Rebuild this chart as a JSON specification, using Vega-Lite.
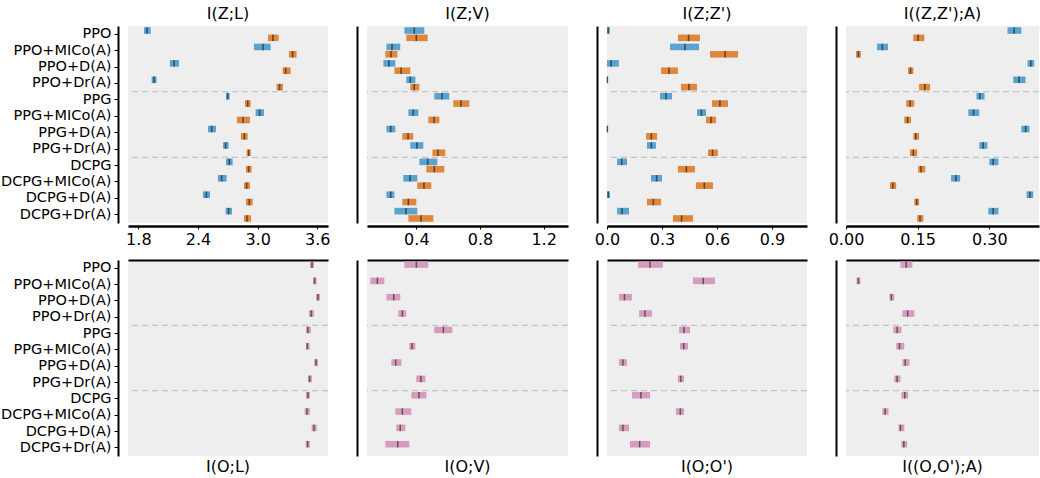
{
"$schema":"https://vega.github.io/schema/vega-lite/v6.json",
"padding":{"left":0,"top":5,"right":0,"bottom":0},
"config":{"font":"DejaVu Sans","view":{"fill":"#eeeeee","stroke":null},"axis":{"grid":false,"domainColor":"#000","tickColor":"#000","labelColor":"#000","labelFont":"DejaVu Sans"},"title":{"font":"DejaVu Sans","fontSize":16,"fontWeight":"normal","color":"#000"}},
"datasets":{
"sep":[{"m":"PPG"},{"m":"DCPG"}],
"d":[
{"p":"ZL","m":"PPO","g":"a","lo":1.857,"mid":1.887,"hi":1.924},{"p":"ZL","m":"PPO","g":"b","lo":3.104,"mid":3.154,"hi":3.211},
{"p":"ZL","m":"PPO+MICo(A)","g":"a","lo":2.963,"mid":3.054,"hi":3.131},{"p":"ZL","m":"PPO+MICo(A)","g":"b","lo":3.315,"mid":3.352,"hi":3.392},
{"p":"ZL","m":"PPO+D(A)","g":"a","lo":2.118,"mid":2.159,"hi":2.209},{"p":"ZL","m":"PPO+D(A)","g":"b","lo":3.252,"mid":3.282,"hi":3.332},
{"p":"ZL","m":"PPO+Dr(A)","g":"a","lo":1.934,"mid":1.958,"hi":1.984},{"p":"ZL","m":"PPO+Dr(A)","g":"b","lo":3.191,"mid":3.221,"hi":3.255},
{"p":"ZL","m":"PPG","g":"a","lo":2.682,"mid":2.698,"hi":2.719},{"p":"ZL","m":"PPG","g":"b","lo":2.873,"mid":2.9,"hi":2.93},
{"p":"ZL","m":"PPG+MICo(A)","g":"a","lo":2.98,"mid":3.02,"hi":3.064},{"p":"ZL","m":"PPG+MICo(A)","g":"b","lo":2.792,"mid":2.853,"hi":2.923},
{"p":"ZL","m":"PPG+D(A)","g":"a","lo":2.501,"mid":2.538,"hi":2.581},{"p":"ZL","m":"PPG+D(A)","g":"b","lo":2.832,"mid":2.866,"hi":2.9},
{"p":"ZL","m":"PPG+Dr(A)","g":"a","lo":2.652,"mid":2.678,"hi":2.708},{"p":"ZL","m":"PPG+Dr(A)","g":"b","lo":2.89,"mid":2.91,"hi":2.93},
{"p":"ZL","m":"DCPG","g":"a","lo":2.682,"mid":2.715,"hi":2.749},{"p":"ZL","m":"DCPG","g":"b","lo":2.883,"mid":2.91,"hi":2.94},
{"p":"ZL","m":"DCPG+MICo(A)","g":"a","lo":2.601,"mid":2.638,"hi":2.688},{"p":"ZL","m":"DCPG+MICo(A)","g":"b","lo":2.863,"mid":2.89,"hi":2.923},
{"p":"ZL","m":"DCPG+D(A)","g":"a","lo":2.45,"mid":2.484,"hi":2.521},{"p":"ZL","m":"DCPG+D(A)","g":"b","lo":2.883,"mid":2.916,"hi":2.95},
{"p":"ZL","m":"DCPG+Dr(A)","g":"a","lo":2.678,"mid":2.708,"hi":2.742},{"p":"ZL","m":"DCPG+Dr(A)","g":"b","lo":2.863,"mid":2.893,"hi":2.933},

{"p":"ZV","m":"PPO","g":"a","lo":0.325,"mid":0.387,"hi":0.45},{"p":"ZV","m":"PPO","g":"b","lo":0.337,"mid":0.4,"hi":0.471},
{"p":"ZV","m":"PPO+MICo(A)","g":"a","lo":0.212,"mid":0.247,"hi":0.299},{"p":"ZV","m":"PPO+MICo(A)","g":"b","lo":0.205,"mid":0.241,"hi":0.281},
{"p":"ZV","m":"PPO+D(A)","g":"a","lo":0.193,"mid":0.228,"hi":0.268},{"p":"ZV","m":"PPO+D(A)","g":"b","lo":0.262,"mid":0.304,"hi":0.362},
{"p":"ZV","m":"PPO+Dr(A)","g":"a","lo":0.337,"mid":0.362,"hi":0.394},{"p":"ZV","m":"PPO+Dr(A)","g":"b","lo":0.362,"mid":0.387,"hi":0.419},
{"p":"ZV","m":"PPG","g":"a","lo":0.513,"mid":0.561,"hi":0.607},{"p":"ZV","m":"PPG","g":"b","lo":0.632,"mid":0.681,"hi":0.733},
{"p":"ZV","m":"PPG+MICo(A)","g":"a","lo":0.35,"mid":0.381,"hi":0.413},{"p":"ZV","m":"PPG+MICo(A)","g":"b","lo":0.475,"mid":0.511,"hi":0.545},
{"p":"ZV","m":"PPG+D(A)","g":"a","lo":0.212,"mid":0.239,"hi":0.268},{"p":"ZV","m":"PPG+D(A)","g":"b","lo":0.312,"mid":0.348,"hi":0.381},
{"p":"ZV","m":"PPG+Dr(A)","g":"a","lo":0.362,"mid":0.404,"hi":0.444},{"p":"ZV","m":"PPG+Dr(A)","g":"b","lo":0.501,"mid":0.536,"hi":0.582},
{"p":"ZV","m":"DCPG","g":"a","lo":0.419,"mid":0.471,"hi":0.532},{"p":"ZV","m":"DCPG","g":"b","lo":0.463,"mid":0.513,"hi":0.576},
{"p":"ZV","m":"DCPG+MICo(A)","g":"a","lo":0.318,"mid":0.36,"hi":0.406},{"p":"ZV","m":"DCPG+MICo(A)","g":"b","lo":0.406,"mid":0.448,"hi":0.494},
{"p":"ZV","m":"DCPG+D(A)","g":"a","lo":0.212,"mid":0.239,"hi":0.262},{"p":"ZV","m":"DCPG+D(A)","g":"b","lo":0.312,"mid":0.35,"hi":0.4},
{"p":"ZV","m":"DCPG+Dr(A)","g":"a","lo":0.262,"mid":0.335,"hi":0.406},{"p":"ZV","m":"DCPG+Dr(A)","g":"b","lo":0.35,"mid":0.429,"hi":0.507},

{"p":"ZZ","m":"PPO","g":"a","lo":0,"mid":0.007,"hi":0.0145},{"p":"ZZ","m":"PPO","g":"b","lo":0.387,"mid":0.445,"hi":0.507},
{"p":"ZZ","m":"PPO+MICo(A)","g":"a","lo":0.344,"mid":0.425,"hi":0.502},{"p":"ZZ","m":"PPO+MICo(A)","g":"b","lo":0.562,"mid":0.644,"hi":0.715},
{"p":"ZZ","m":"PPO+D(A)","g":"a","lo":0,"mid":0.022,"hi":0.065},{"p":"ZZ","m":"PPO+D(A)","g":"b","lo":0.295,"mid":0.338,"hi":0.387},
{"p":"ZZ","m":"PPO+Dr(A)","g":"a","lo":0,"mid":0.002,"hi":0.005},{"p":"ZZ","m":"PPO+Dr(A)","g":"b","lo":0.404,"mid":0.447,"hi":0.491},
{"p":"ZZ","m":"PPG","g":"a","lo":0.289,"mid":0.322,"hi":0.355},{"p":"ZZ","m":"PPG","g":"b","lo":0.573,"mid":0.616,"hi":0.66},
{"p":"ZZ","m":"PPG+MICo(A)","g":"a","lo":0.491,"mid":0.515,"hi":0.54},{"p":"ZZ","m":"PPG+MICo(A)","g":"b","lo":0.54,"mid":0.567,"hi":0.595},
{"p":"ZZ","m":"PPG+D(A)","g":"a","lo":0,"mid":0.002,"hi":0.005},{"p":"ZZ","m":"PPG+D(A)","g":"b","lo":0.213,"mid":0.242,"hi":0.273},
{"p":"ZZ","m":"PPG+Dr(A)","g":"a","lo":0.218,"mid":0.242,"hi":0.267},{"p":"ZZ","m":"PPG+Dr(A)","g":"b","lo":0.551,"mid":0.576,"hi":0.605},
{"p":"ZZ","m":"DCPG","g":"a","lo":0.055,"mid":0.08,"hi":0.109},{"p":"ZZ","m":"DCPG","g":"b","lo":0.387,"mid":0.433,"hi":0.48},
{"p":"ZZ","m":"DCPG+MICo(A)","g":"a","lo":0.24,"mid":0.271,"hi":0.3},{"p":"ZZ","m":"DCPG+MICo(A)","g":"b","lo":0.485,"mid":0.531,"hi":0.578},
{"p":"ZZ","m":"DCPG+D(A)","g":"a","lo":0,"mid":0.007,"hi":0.016},{"p":"ZZ","m":"DCPG+D(A)","g":"b","lo":0.218,"mid":0.253,"hi":0.295},
{"p":"ZZ","m":"DCPG+Dr(A)","g":"a","lo":0.055,"mid":0.082,"hi":0.12},{"p":"ZZ","m":"DCPG+Dr(A)","g":"b","lo":0.36,"mid":0.407,"hi":0.469},

{"p":"ZA","m":"PPO","g":"a","lo":0.338,"mid":0.352,"hi":0.367},{"p":"ZA","m":"PPO","g":"b","lo":0.141,"mid":0.151,"hi":0.164},
{"p":"ZA","m":"PPO+MICo(A)","g":"a","lo":0.065,"mid":0.076,"hi":0.088},{"p":"ZA","m":"PPO+MICo(A)","g":"b","lo":0.021,"mid":0.026,"hi":0.031},
{"p":"ZA","m":"PPO+D(A)","g":"a","lo":0.38,"mid":0.387,"hi":0.394},{"p":"ZA","m":"PPO+D(A)","g":"b","lo":0.13,"mid":0.135,"hi":0.141},
{"p":"ZA","m":"PPO+Dr(A)","g":"a","lo":0.35,"mid":0.362,"hi":0.376},{"p":"ZA","m":"PPO+Dr(A)","g":"b","lo":0.153,"mid":0.165,"hi":0.176},
{"p":"ZA","m":"PPG","g":"a","lo":0.273,"mid":0.28,"hi":0.29},{"p":"ZA","m":"PPG","g":"b","lo":0.126,"mid":0.134,"hi":0.143},
{"p":"ZA","m":"PPG+MICo(A)","g":"a","lo":0.256,"mid":0.267,"hi":0.279},{"p":"ZA","m":"PPG+MICo(A)","g":"b","lo":0.122,"mid":0.129,"hi":0.136},
{"p":"ZA","m":"PPG+D(A)","g":"a","lo":0.367,"mid":0.376,"hi":0.384},{"p":"ZA","m":"PPG+D(A)","g":"b","lo":0.141,"mid":0.146,"hi":0.153},
{"p":"ZA","m":"PPG+Dr(A)","g":"a","lo":0.279,"mid":0.287,"hi":0.296},{"p":"ZA","m":"PPG+Dr(A)","g":"b","lo":0.134,"mid":0.141,"hi":0.149},
{"p":"ZA","m":"DCPG","g":"a","lo":0.3,"mid":0.308,"hi":0.319},{"p":"ZA","m":"DCPG","g":"b","lo":0.151,"mid":0.157,"hi":0.166},
{"p":"ZA","m":"DCPG+MICo(A)","g":"a","lo":0.22,"mid":0.23,"hi":0.239},{"p":"ZA","m":"DCPG+MICo(A)","g":"b","lo":0.092,"mid":0.098,"hi":0.105},
{"p":"ZA","m":"DCPG+D(A)","g":"a","lo":0.378,"mid":0.385,"hi":0.392},{"p":"ZA","m":"DCPG+D(A)","g":"b","lo":0.143,"mid":0.148,"hi":0.153},
{"p":"ZA","m":"DCPG+Dr(A)","g":"a","lo":0.298,"mid":0.308,"hi":0.319},{"p":"ZA","m":"DCPG+Dr(A)","g":"b","lo":0.149,"mid":0.155,"hi":0.162},

{"p":"OL","m":"PPO","g":"a","lo":3.526,"mid":3.547,"hi":3.567},
{"p":"OL","m":"PPO+MICo(A)","g":"a","lo":3.557,"mid":3.573,"hi":3.594},
{"p":"OL","m":"PPO+D(A)","g":"a","lo":3.587,"mid":3.607,"hi":3.627},
{"p":"OL","m":"PPO+Dr(A)","g":"a","lo":3.516,"mid":3.54,"hi":3.567},
{"p":"OL","m":"PPG","g":"a","lo":3.486,"mid":3.506,"hi":3.537},
{"p":"OL","m":"PPG+MICo(A)","g":"a","lo":3.486,"mid":3.5,"hi":3.523},
{"p":"OL","m":"PPG+D(A)","g":"a","lo":3.57,"mid":3.587,"hi":3.607},
{"p":"OL","m":"PPG+Dr(A)","g":"a","lo":3.506,"mid":3.523,"hi":3.547},
{"p":"OL","m":"DCPG","g":"a","lo":3.486,"mid":3.506,"hi":3.526},
{"p":"OL","m":"DCPG+MICo(A)","g":"a","lo":3.473,"mid":3.496,"hi":3.526},
{"p":"OL","m":"DCPG+D(A)","g":"a","lo":3.543,"mid":3.567,"hi":3.594},
{"p":"OL","m":"DCPG+Dr(A)","g":"a","lo":3.483,"mid":3.503,"hi":3.526},

{"p":"OV","m":"PPO","g":"a","lo":0.325,"mid":0.4,"hi":0.475},
{"p":"OV","m":"PPO+MICo(A)","g":"a","lo":0.111,"mid":0.155,"hi":0.199},
{"p":"OV","m":"PPO+D(A)","g":"a","lo":0.212,"mid":0.258,"hi":0.299},
{"p":"OV","m":"PPO+Dr(A)","g":"a","lo":0.287,"mid":0.312,"hi":0.337},
{"p":"OV","m":"PPG","g":"a","lo":0.513,"mid":0.57,"hi":0.626},
{"p":"OV","m":"PPG+MICo(A)","g":"a","lo":0.356,"mid":0.373,"hi":0.394},
{"p":"OV","m":"PPG+D(A)","g":"a","lo":0.243,"mid":0.27,"hi":0.306},
{"p":"OV","m":"PPG+Dr(A)","g":"a","lo":0.4,"mid":0.429,"hi":0.457},
{"p":"OV","m":"DCPG","g":"a","lo":0.369,"mid":0.417,"hi":0.463},
{"p":"OV","m":"DCPG+MICo(A)","g":"a","lo":0.268,"mid":0.312,"hi":0.369},
{"p":"OV","m":"DCPG+D(A)","g":"a","lo":0.274,"mid":0.299,"hi":0.331},
{"p":"OV","m":"DCPG+Dr(A)","g":"a","lo":0.205,"mid":0.283,"hi":0.356},

{"p":"OO","m":"PPO","g":"a","lo":0.169,"mid":0.235,"hi":0.305},
{"p":"OO","m":"PPO+MICo(A)","g":"a","lo":0.469,"mid":0.525,"hi":0.589},
{"p":"OO","m":"PPO+D(A)","g":"a","lo":0.065,"mid":0.095,"hi":0.136},
{"p":"OO","m":"PPO+Dr(A)","g":"a","lo":0.175,"mid":0.207,"hi":0.245},
{"p":"OO","m":"PPG","g":"a","lo":0.393,"mid":0.42,"hi":0.453},
{"p":"OO","m":"PPG+MICo(A)","g":"a","lo":0.398,"mid":0.418,"hi":0.442},
{"p":"OO","m":"PPG+D(A)","g":"a","lo":0.065,"mid":0.087,"hi":0.109},
{"p":"OO","m":"PPG+Dr(A)","g":"a","lo":0.387,"mid":0.402,"hi":0.42},
{"p":"OO","m":"DCPG","g":"a","lo":0.136,"mid":0.185,"hi":0.235},
{"p":"OO","m":"DCPG+MICo(A)","g":"a","lo":0.376,"mid":0.4,"hi":0.42},
{"p":"OO","m":"DCPG+D(A)","g":"a","lo":0.065,"mid":0.087,"hi":0.12},
{"p":"OO","m":"DCPG+Dr(A)","g":"a","lo":0.125,"mid":0.178,"hi":0.235},

{"p":"OA","m":"PPO","g":"a","lo":0.114,"mid":0.126,"hi":0.139},
{"p":"OA","m":"PPO+MICo(A)","g":"a","lo":0.022,"mid":0.026,"hi":0.03},
{"p":"OA","m":"PPO+D(A)","g":"a","lo":0.091,"mid":0.095,"hi":0.101},
{"p":"OA","m":"PPO+Dr(A)","g":"a","lo":0.118,"mid":0.129,"hi":0.143},
{"p":"OA","m":"PPG","g":"a","lo":0.099,"mid":0.107,"hi":0.116},
{"p":"OA","m":"PPG+MICo(A)","g":"a","lo":0.105,"mid":0.112,"hi":0.122},
{"p":"OA","m":"PPG+D(A)","g":"a","lo":0.118,"mid":0.124,"hi":0.133},
{"p":"OA","m":"PPG+Dr(A)","g":"a","lo":0.101,"mid":0.107,"hi":0.114},
{"p":"OA","m":"DCPG","g":"a","lo":0.116,"mid":0.123,"hi":0.13},
{"p":"OA","m":"DCPG+MICo(A)","g":"a","lo":0.076,"mid":0.082,"hi":0.089},
{"p":"OA","m":"DCPG+D(A)","g":"a","lo":0.11,"mid":0.114,"hi":0.122},
{"p":"OA","m":"DCPG+Dr(A)","g":"a","lo":0.116,"mid":0.121,"hi":0.128}
]},
"columns":4,
"spacing":{"row":37,"column":39},
"bounds":"flush",
"resolve":{"scale":{"x":"independent"}},
"concat":[
{"width":200,"height":197,"title":{"text":"I(Z;L)","offset":4},
"layer":[
{"data":{"name":"sep"},"mark":{"type":"rule","color":"#c4c4c4","strokeDash":[6,4],"strokeWidth":1.2},"encoding":{"y":{"field":"m","type":"nominal","bandPosition":0,"scale":{"domain":["PPO","PPO+MICo(A)","PPO+D(A)","PPO+Dr(A)","PPG","PPG+MICo(A)","PPG+D(A)","PPG+Dr(A)","DCPG","DCPG+MICo(A)","DCPG+D(A)","DCPG+Dr(A)"],"paddingInner":0,"paddingOuter":0},"axis":{"title":null,"offset":10,"domainWidth":2,"tickSize":4,"labelFontSize":14.5,"labelPadding":3}}}},
{"data":{"name":"d"},"transform":[{"filter":"datum.p=='ZL'"}],"mark":{"type":"bar"},"encoding":{"y":{"field":"m","type":"nominal"},"yOffset":{"field":"g","type":"nominal","scale":{"domain":["a","b"],"paddingInner":0.1,"paddingOuter":0.17}},"x":{"field":"lo","type":"quantitative","scale":{"domain":[1.696,3.708],"nice":false,"zero":false},"axis":{"title":null,"offset":3,"domainWidth":2.5,"tickSize":3,"values":[1.8,2.4,3.0,3.6],"format":".1f","labelFontSize":16,"labelPadding":2,"labelFlush":false}},"x2":{"field":"hi"},"color":{"field":"g","type":"nominal","scale":{"domain":["a","b"],"range":["#5ba3cf","#e0873e"]},"legend":null}}},
{"data":{"name":"d"},"transform":[{"filter":"datum.p=='ZL'"}],"mark":{"type":"tick","thickness":1.6,"size":6.5,"color":"#000","opacity":0.5},"encoding":{"y":{"field":"m","type":"nominal"},"yOffset":{"field":"g","type":"nominal"},"x":{"field":"mid","type":"quantitative"}}}
]},
{"width":201,"height":197,"title":{"text":"I(Z;V)","offset":4},
"layer":[
{"data":{"name":"sep"},"mark":{"type":"rule","color":"#c4c4c4","strokeDash":[6,4],"strokeWidth":1.2},"encoding":{"y":{"field":"m","type":"nominal","bandPosition":0,"scale":{"domain":["PPO","PPO+MICo(A)","PPO+D(A)","PPO+Dr(A)","PPG","PPG+MICo(A)","PPG+D(A)","PPG+Dr(A)","DCPG","DCPG+MICo(A)","DCPG+D(A)","DCPG+Dr(A)"],"paddingInner":0,"paddingOuter":0},"axis":{"title":null,"offset":10,"domainWidth":2,"labels":false,"ticks":false}}}},
{"data":{"name":"d"},"transform":[{"filter":"datum.p=='ZV'"}],"mark":{"type":"bar"},"encoding":{"y":{"field":"m","type":"nominal"},"yOffset":{"field":"g","type":"nominal","scale":{"domain":["a","b"],"paddingInner":0.1,"paddingOuter":0.17}},"x":{"field":"lo","type":"quantitative","scale":{"domain":[0.09,1.353],"nice":false,"zero":false},"axis":{"title":null,"offset":3,"domainWidth":2.5,"tickSize":3,"values":[0.4,0.8,1.2],"format":".1f","labelFontSize":16,"labelPadding":2,"labelFlush":false}},"x2":{"field":"hi"},"color":{"field":"g","type":"nominal","scale":{"domain":["a","b"],"range":["#5ba3cf","#e0873e"]},"legend":null}}},
{"data":{"name":"d"},"transform":[{"filter":"datum.p=='ZV'"}],"mark":{"type":"tick","thickness":1.6,"size":6.5,"color":"#000","opacity":0.5},"encoding":{"y":{"field":"m","type":"nominal"},"yOffset":{"field":"g","type":"nominal"},"x":{"field":"mid","type":"quantitative"}}}
]},
{"width":200,"height":197,"title":{"text":"I(Z;Z')","offset":4},
"layer":[
{"data":{"name":"sep"},"mark":{"type":"rule","color":"#c4c4c4","strokeDash":[6,4],"strokeWidth":1.2},"encoding":{"y":{"field":"m","type":"nominal","bandPosition":0,"scale":{"domain":["PPO","PPO+MICo(A)","PPO+D(A)","PPO+Dr(A)","PPG","PPG+MICo(A)","PPG+D(A)","PPG+Dr(A)","DCPG","DCPG+MICo(A)","DCPG+D(A)","DCPG+Dr(A)"],"paddingInner":0,"paddingOuter":0},"axis":{"title":null,"offset":10,"domainWidth":2,"labels":false,"ticks":false}}}},
{"data":{"name":"d"},"transform":[{"filter":"datum.p=='ZZ'"}],"mark":{"type":"bar"},"encoding":{"y":{"field":"m","type":"nominal"},"yOffset":{"field":"g","type":"nominal","scale":{"domain":["a","b"],"paddingInner":0.1,"paddingOuter":0.17}},"x":{"field":"lo","type":"quantitative","scale":{"domain":[0,1.091],"nice":false,"zero":false},"axis":{"title":null,"offset":3,"domainWidth":2.5,"tickSize":3,"values":[0,0.3,0.6,0.9],"format":".1f","labelFontSize":16,"labelPadding":2,"labelFlush":false}},"x2":{"field":"hi"},"color":{"field":"g","type":"nominal","scale":{"domain":["a","b"],"range":["#5ba3cf","#e0873e"]},"legend":null}}},
{"data":{"name":"d"},"transform":[{"filter":"datum.p=='ZZ'"}],"mark":{"type":"tick","thickness":1.6,"size":6.5,"color":"#000","opacity":0.5},"encoding":{"y":{"field":"m","type":"nominal"},"yOffset":{"field":"g","type":"nominal"},"x":{"field":"mid","type":"quantitative"}}}
]},
{"width":193,"height":197,"title":{"text":"I((Z,Z');A)","offset":4},
"layer":[
{"data":{"name":"sep"},"mark":{"type":"rule","color":"#c4c4c4","strokeDash":[6,4],"strokeWidth":1.2},"encoding":{"y":{"field":"m","type":"nominal","bandPosition":0,"scale":{"domain":["PPO","PPO+MICo(A)","PPO+D(A)","PPO+Dr(A)","PPG","PPG+MICo(A)","PPG+D(A)","PPG+Dr(A)","DCPG","DCPG+MICo(A)","DCPG+D(A)","DCPG+Dr(A)"],"paddingInner":0,"paddingOuter":0},"axis":{"title":null,"offset":10,"domainWidth":2,"labels":false,"ticks":false}}}},
{"data":{"name":"d"},"transform":[{"filter":"datum.p=='ZA'"}],"mark":{"type":"bar"},"encoding":{"y":{"field":"m","type":"nominal"},"yOffset":{"field":"g","type":"nominal","scale":{"domain":["a","b"],"paddingInner":0.1,"paddingOuter":0.17}},"x":{"field":"lo","type":"quantitative","scale":{"domain":[0,0.404],"nice":false,"zero":false},"axis":{"title":null,"offset":3,"domainWidth":2.5,"tickSize":3,"values":[0,0.15,0.3],"format":".2f","labelFontSize":16,"labelPadding":2,"labelFlush":false}},"x2":{"field":"hi"},"color":{"field":"g","type":"nominal","scale":{"domain":["a","b"],"range":["#5ba3cf","#e0873e"]},"legend":null}}},
{"data":{"name":"d"},"transform":[{"filter":"datum.p=='ZA'"}],"mark":{"type":"tick","thickness":1.6,"size":6.5,"color":"#000","opacity":0.5},"encoding":{"y":{"field":"m","type":"nominal"},"yOffset":{"field":"g","type":"nominal"},"x":{"field":"mid","type":"quantitative"}}}
]},
{"width":200,"height":196,"title":{"text":"I(O;L)","orient":"bottom","offset":3},
"layer":[
{"data":{"name":"sep"},"mark":{"type":"rule","color":"#c4c4c4","strokeDash":[6,4],"strokeWidth":1.2},"encoding":{"y":{"field":"m","type":"nominal","bandPosition":0,"scale":{"domain":["PPO","PPO+MICo(A)","PPO+D(A)","PPO+Dr(A)","PPG","PPG+MICo(A)","PPG+D(A)","PPG+Dr(A)","DCPG","DCPG+MICo(A)","DCPG+D(A)","DCPG+Dr(A)"],"paddingInner":0,"paddingOuter":0},"axis":{"title":null,"offset":10,"domainWidth":2,"tickSize":4,"labelFontSize":14.5,"labelPadding":3}}}},
{"data":{"name":"d"},"transform":[{"filter":"datum.p=='OL'"}],"mark":{"type":"bar","color":"#d69cbe"},"encoding":{"y":{"field":"m","type":"nominal"},"yOffset":{"field":"g","type":"nominal","scale":{"domain":["a","b"],"paddingInner":0.1,"paddingOuter":0.17}},"x":{"field":"lo","type":"quantitative","scale":{"domain":[1.696,3.708],"nice":false,"zero":false},"axis":{"title":null,"orient":"top","domainWidth":2,"labels":false,"ticks":false}},"x2":{"field":"hi"}}},
{"data":{"name":"d"},"transform":[{"filter":"datum.p=='OL'"}],"mark":{"type":"tick","thickness":1.5,"size":6.5,"color":"#000","opacity":0.5},"encoding":{"y":{"field":"m","type":"nominal"},"yOffset":{"field":"g","type":"nominal"},"x":{"field":"mid","type":"quantitative"}}}
]},
{"width":201,"height":196,"title":{"text":"I(O;V)","orient":"bottom","offset":3},
"layer":[
{"data":{"name":"sep"},"mark":{"type":"rule","color":"#c4c4c4","strokeDash":[6,4],"strokeWidth":1.2},"encoding":{"y":{"field":"m","type":"nominal","bandPosition":0,"scale":{"domain":["PPO","PPO+MICo(A)","PPO+D(A)","PPO+Dr(A)","PPG","PPG+MICo(A)","PPG+D(A)","PPG+Dr(A)","DCPG","DCPG+MICo(A)","DCPG+D(A)","DCPG+Dr(A)"],"paddingInner":0,"paddingOuter":0},"axis":{"title":null,"offset":10,"domainWidth":2,"labels":false,"ticks":false}}}},
{"data":{"name":"d"},"transform":[{"filter":"datum.p=='OV'"}],"mark":{"type":"bar","color":"#d69cbe"},"encoding":{"y":{"field":"m","type":"nominal"},"yOffset":{"field":"g","type":"nominal","scale":{"domain":["a","b"],"paddingInner":0.1,"paddingOuter":0.17}},"x":{"field":"lo","type":"quantitative","scale":{"domain":[0.09,1.353],"nice":false,"zero":false},"axis":{"title":null,"orient":"top","domainWidth":2,"labels":false,"ticks":false}},"x2":{"field":"hi"}}},
{"data":{"name":"d"},"transform":[{"filter":"datum.p=='OV'"}],"mark":{"type":"tick","thickness":1.5,"size":6.5,"color":"#000","opacity":0.5},"encoding":{"y":{"field":"m","type":"nominal"},"yOffset":{"field":"g","type":"nominal"},"x":{"field":"mid","type":"quantitative"}}}
]},
{"width":200,"height":196,"title":{"text":"I(O;O')","orient":"bottom","offset":3},
"layer":[
{"data":{"name":"sep"},"mark":{"type":"rule","color":"#c4c4c4","strokeDash":[6,4],"strokeWidth":1.2},"encoding":{"y":{"field":"m","type":"nominal","bandPosition":0,"scale":{"domain":["PPO","PPO+MICo(A)","PPO+D(A)","PPO+Dr(A)","PPG","PPG+MICo(A)","PPG+D(A)","PPG+Dr(A)","DCPG","DCPG+MICo(A)","DCPG+D(A)","DCPG+Dr(A)"],"paddingInner":0,"paddingOuter":0},"axis":{"title":null,"offset":10,"domainWidth":2,"labels":false,"ticks":false}}}},
{"data":{"name":"d"},"transform":[{"filter":"datum.p=='OO'"}],"mark":{"type":"bar","color":"#d69cbe"},"encoding":{"y":{"field":"m","type":"nominal"},"yOffset":{"field":"g","type":"nominal","scale":{"domain":["a","b"],"paddingInner":0.1,"paddingOuter":0.17}},"x":{"field":"lo","type":"quantitative","scale":{"domain":[0,1.091],"nice":false,"zero":false},"axis":{"title":null,"orient":"top","domainWidth":2,"labels":false,"ticks":false}},"x2":{"field":"hi"}}},
{"data":{"name":"d"},"transform":[{"filter":"datum.p=='OO'"}],"mark":{"type":"tick","thickness":1.5,"size":6.5,"color":"#000","opacity":0.5},"encoding":{"y":{"field":"m","type":"nominal"},"yOffset":{"field":"g","type":"nominal"},"x":{"field":"mid","type":"quantitative"}}}
]},
{"width":193,"height":196,"title":{"text":"I((O,O');A)","orient":"bottom","offset":3},
"layer":[
{"data":{"name":"sep"},"mark":{"type":"rule","color":"#c4c4c4","strokeDash":[6,4],"strokeWidth":1.2},"encoding":{"y":{"field":"m","type":"nominal","bandPosition":0,"scale":{"domain":["PPO","PPO+MICo(A)","PPO+D(A)","PPO+Dr(A)","PPG","PPG+MICo(A)","PPG+D(A)","PPG+Dr(A)","DCPG","DCPG+MICo(A)","DCPG+D(A)","DCPG+Dr(A)"],"paddingInner":0,"paddingOuter":0},"axis":{"title":null,"offset":10,"domainWidth":2,"labels":false,"ticks":false}}}},
{"data":{"name":"d"},"transform":[{"filter":"datum.p=='OA'"}],"mark":{"type":"bar","color":"#d69cbe"},"encoding":{"y":{"field":"m","type":"nominal"},"yOffset":{"field":"g","type":"nominal","scale":{"domain":["a","b"],"paddingInner":0.1,"paddingOuter":0.17}},"x":{"field":"lo","type":"quantitative","scale":{"domain":[0,0.404],"nice":false,"zero":false},"axis":{"title":null,"orient":"top","domainWidth":2,"labels":false,"ticks":false}},"x2":{"field":"hi"}}},
{"data":{"name":"d"},"transform":[{"filter":"datum.p=='OA'"}],"mark":{"type":"tick","thickness":1.5,"size":6.5,"color":"#000","opacity":0.5},"encoding":{"y":{"field":"m","type":"nominal"},"yOffset":{"field":"g","type":"nominal"},"x":{"field":"mid","type":"quantitative"}}}
]}
]
}
